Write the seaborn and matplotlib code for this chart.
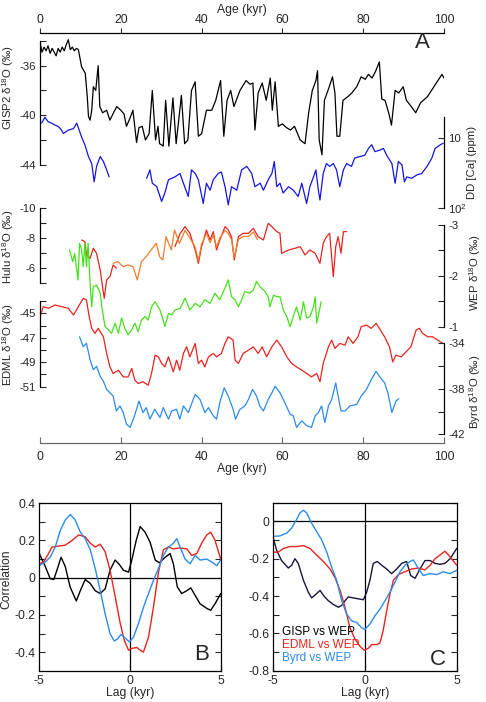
import matplotlib
matplotlib.use("Agg")
import matplotlib.pyplot as plt
import seaborn as sns
from matplotlib.ticker import NullLocator

# ---------------- panel A: ice cores and speleothems (age in kyr) ----------------
gisp_age = [0.0, 0.5, 1.0, 1.5, 2.0, 2.5, 3.0, 3.5, 4.0, 4.5, 5.0, 5.5, 6.0, 6.5, 7.0, 7.5,
            8.0, 8.5, 9.0, 9.5, 10.3, 11.2, 11.7, 12.0, 12.4, 12.8, 13.2, 13.8, 14.4, 14.8,
            15.5, 16.5, 17.3, 18.2, 19.0, 20.0, 20.8, 21.4, 22.2, 23.0, 23.9, 24.5, 25.3,
            26.1, 27.0, 27.8, 28.6, 29.2, 29.6, 30.5, 31.1, 31.9, 32.9, 33.7, 35.0, 35.8,
            36.6, 37.5, 38.4, 39.2, 40.0, 41.2, 42.5, 43.5, 44.7, 45.5, 46.3, 47.2, 48.0,
            49.5, 51.0, 52.0, 52.7, 53.2, 54.0, 55.0, 56.0, 57.0, 57.5, 58.2, 59.0, 60.0,
            61.0, 62.0, 63.0, 64.4, 65.6, 66.5, 67.4, 68.3, 68.7, 69.1, 69.8, 70.4, 71.6,
            72.4, 73.0, 73.5, 74.2, 75.0, 76.2, 77.2, 78.4, 79.5, 80.5, 81.3, 82.2, 83.0,
            84.0, 84.6, 85.4, 86.3, 87.0, 87.9, 88.8, 89.9, 90.7, 91.9, 93.0, 94.2, 95.9,
            97.5, 99.5, 100.0]
gisp_d18o = [-34.1, -34.9, -34.5, -34.8, -34.4, -35.0, -34.6, -34.9, -35.2, -34.6, -34.9,
             -34.5, -34.8, -34.3, -33.9, -34.7, -34.5, -34.8, -34.6, -34.7, -36.1, -36.6,
             -38.5, -40.1, -40.4, -39.6, -37.7, -38.0, -36.0, -39.3, -39.8, -39.6, -40.4,
             -39.8, -39.3, -39.6, -39.9, -40.9, -40.3, -39.6, -42.2, -41.0, -40.9, -42.0,
             -41.5, -38.0, -42.0, -40.9, -42.3, -42.5, -38.8, -42.5, -38.6, -42.3, -38.4,
             -42.3, -42.0, -38.0, -37.3, -41.7, -41.5, -39.6, -39.6, -38.8, -37.2, -41.7,
             -38.8, -38.0, -39.3, -38.0, -37.2, -37.5, -37.4, -41.2, -38.2, -37.4, -38.8,
             -37.0, -39.6, -37.3, -40.9, -40.7, -41.0, -41.2, -40.9, -42.0, -42.3, -39.8,
             -38.0, -37.2, -36.4, -42.0, -43.2, -38.8, -37.7, -36.9, -38.2, -41.7, -41.7,
             -38.8, -38.5, -38.2, -37.7, -36.9, -37.1, -36.7, -37.0, -36.5, -35.7, -38.7,
             -38.8, -39.8, -40.8, -38.0, -38.2, -37.7, -38.8, -39.3, -39.8, -39.0, -38.5,
             -37.7, -36.7, -37.0]

# DD dust calcium, two segments (gap 17-26 kyr)
dd_age_a = [0.4, 1.2, 2.0, 2.9, 3.7, 4.5, 5.2, 5.8, 7.0, 8.3, 9.1, 10.3, 11.1, 12.0, 12.8,
            13.4, 14.0, 14.9, 15.7, 16.5, 17.1]
dd_ca_a = [6.2, 5.1, 5.9, 6.2, 6.6, 6.9, 7.6, 8.7, 7.8, 7.4, 6.2, 9.8, 12.6, 18.6, 23.4,
           42.7, 25.7, 18.6, 21.9, 28.8, 36.3]
dd_age_b = [26.4, 27.2, 27.8, 28.9, 30.1, 30.9, 31.8, 33.4, 34.65, 35.5, 36.7, 37.5, 38.4,
            39.2, 40.4, 41.2, 42.1, 42.9, 44.1, 44.9, 45.8, 46.6, 47.4, 48.7, 49.9, 51.2,
            52.4, 53.2, 54.5, 55.3, 56.5, 57.4, 58.0, 58.6, 59.4, 60.2, 61.5, 62.7, 63.9,
            64.8, 66.0, 66.8, 67.7, 68.3, 68.9, 69.3, 70.1, 70.9, 71.7, 72.6, 73.4, 74.2,
            75.1, 75.9, 77.1, 77.9, 79.2, 80.4, 81.3, 82.1, 82.9, 84.2, 85.0, 85.8, 87.1,
            87.9, 88.7, 89.6, 90.2, 90.8, 92.0, 93.3, 94.5, 95.8, 97.0, 97.8, 99.1, 99.8]
dd_ca_b = [38.0, 28.8, 44.7, 50.1, 81.3, 61.7, 39.8, 36.3, 32.4, 44.7, 69.2, 28.8, 32.4,
           39.8, 87.0, 44.7, 56.2, 39.8, 32.4, 30.9, 50.1, 91.0, 50.1, 56.2, 28.8, 25.7,
           32.4, 50.1, 44.7, 56.2, 39.8, 32.4, 21.9, 50.1, 44.7, 61.7, 50.1, 56.2, 69.2,
           44.7, 87.0, 50.1, 36.3, 28.8, 56.2, 77.6, 32.4, 23.4, 25.7, 23.4, 28.8, 50.1,
           28.8, 23.4, 25.7, 19.5, 18.6, 17.8, 14.2, 12.6, 15.8, 15.0, 14.2, 17.8, 23.4,
           44.7, 21.9, 24.5, 42.7, 36.3, 38.0, 34.0, 32.4, 25.7, 19.5, 14.2, 12.6, 12.0]

# Hulu cave: red record (two segments) and orange record
hulu_red_age_a = [10.3, 11.1, 11.5, 12.4, 13.2, 14.0, 14.9, 15.3, 15.9, 16.5, 17.3, 18.1, 18.9]
hulu_red_a = [-7.87, -7.76, -6.88, -6.66, -7.32, -6.99, -5.89, -5.12, -4.02, -5.23, -5.45,
              -6.22, -6.0]
hulu_red_age_b = [33.4, 34.7, 35.9, 37.1, 38.4, 39.2, 40.0, 41.2, 42.1, 42.9, 43.7, 44.5,
                  45.8, 46.6, 47.4, 48.1, 49.1, 50.3, 51.6, 52.8, 54.0, 55.3, 56.5, 57.4,
                  58.6, 59.4, 59.8, 61.5, 63.1, 64.4, 65.6, 66.8, 68.1, 69.3, 70.1, 70.9,
                  71.7, 72.6, 73.2, 73.8, 74.5, 75.1, 75.9]
hulu_red_b = [-7.43, -8.31, -8.75, -8.31, -7.21, -6.33, -7.43, -8.53, -7.87, -8.42, -7.21,
              -7.87, -8.75, -8.53, -8.09, -6.55, -8.09, -8.31, -8.31, -8.64, -8.09, -7.87,
              -8.97, -8.75, -8.42, -8.31, -6.99, -7.21, -7.32, -7.43, -6.88, -7.21, -6.99,
              -6.33, -7.65, -8.09, -8.31, -5.45, -7.43, -8.09, -6.99, -8.42, -8.42]
hulu_orange_age = [18.1, 19.3, 20.6, 21.8, 23.0, 24.1, 25.1, 26.3, 27.5, 28.8, 29.6, 30.4,
                   31.2, 32.5, 33.3, 34.5, 35.9, 37.1, 38.4, 39.2, 40.0, 41.2, 42.1, 42.9,
                   43.7, 44.5, 45.8, 46.6, 47.4, 48.1, 49.1, 50.3, 51.6, 52.8, 53.8]
hulu_orange = [-6.33, -6.44, -6.11, -6.22, -6.11, -5.23, -6.44, -6.77, -7.21, -7.65, -6.77,
               -6.55, -8.09, -7.21, -8.53, -7.65, -8.5, -8.0, -7.4, -6.5, -7.6, -8.3, -7.7,
               -8.2, -7.4, -8.0, -8.5, -8.3, -7.9, -6.7, -7.9, -8.1, -8.1, -8.4, -7.9]

# WEP speleothem composite
wep_age = [7.3, 8.1, 8.6, 9.4, 9.8, 10.3, 10.7, 11.1, 11.5, 11.9, 12.4, 12.8, 13.2, 14.0,
           14.9, 15.3, 16.1, 16.9, 17.7, 18.6, 19.4, 20.2, 21.0, 21.8, 22.7, 23.5, 24.3,
           25.1, 26.0, 26.8, 27.6, 28.5, 29.7, 30.5, 30.9, 31.8, 32.6, 33.4, 34.7, 35.9,
           37.1, 38.4, 39.6, 40.8, 42.1, 43.3, 44.5, 45.8, 46.6, 47.4, 48.3, 49.1, 49.9,
           50.7, 51.9, 52.8, 53.6, 54.4, 55.7, 56.5, 56.9, 57.8, 58.6, 59.4, 60.2, 61.1,
           61.9, 62.7, 63.5, 64.4, 65.2, 66.0, 66.8, 67.7, 68.1, 68.5, 69.6]
wep_d18o = [-2.51, -2.28, -2.44, -1.92, -2.64, -2.51, -2.18, -2.64, -2.18, -2.64, -1.85,
            -1.39, -1.79, -1.82, -1.66, -1.39, -1.0, -0.94, -0.87, -1.07, -0.87, -1.17,
            -0.97, -0.84, -0.94, -1.07, -0.9, -1.13, -1.2, -1.13, -1.39, -1.49, -1.33,
            -1.13, -1.0, -1.26, -1.23, -1.33, -1.36, -1.56, -1.33, -1.46, -1.39, -1.53,
            -1.46, -1.66, -1.53, -1.76, -1.92, -1.59, -1.53, -1.39, -1.53, -1.69, -1.66,
            -1.72, -1.89, -1.79, -1.69, -1.59, -1.39, -1.62, -1.59, -1.59, -1.33, -1.2,
            -1.0, -1.2, -1.39, -1.13, -1.49, -1.17, -1.2, -1.39, -1.59, -1.07, -1.49]

edml_age = [0.0, 0.8, 2.1, 3.7, 5.4, 7.0, 8.3, 9.5, 10.7, 11.5, 12.1, 12.8, 13.6, 14.4, 15.7,
            16.5, 17.3, 18.1, 19.4, 20.6, 21.8, 22.7, 23.5, 24.3, 25.5, 26.8, 27.6, 28.5,
            29.3, 30.1, 30.9, 31.8, 33.0, 33.8, 34.6, 35.5, 36.3, 37.1, 38.4, 39.2, 40.0,
            40.8, 41.7, 42.9, 43.7, 44.9, 45.8, 46.6, 47.8, 48.3, 49.1, 50.3, 51.6, 52.8,
            54.0, 55.0, 56.1, 57.4, 58.6, 59.8, 61.1, 62.3, 63.5, 64.8, 66.0, 67.2, 68.5,
            69.3, 70.1, 71.4, 72.2, 73.0, 74.2, 75.5, 76.3, 77.5, 78.7, 79.5, 80.8, 82.0,
            83.2, 84.0, 85.3, 86.5, 87.3, 88.1, 89.4, 90.6, 91.8, 93.1, 93.9, 94.7, 96.0,
            97.2, 98.4, 99.7]
edml_d18o = [-45.28, -44.46, -44.59, -44.32, -44.46, -44.59, -45.14, -44.46, -43.77, -43.91,
             -45.14, -46.23, -46.64, -46.23, -46.92, -48.28, -49.38, -49.92, -49.65, -50.2,
             -50.2, -49.51, -50.47, -50.74, -50.6, -50.88, -49.92, -48.42, -48.56, -49.1,
             -49.38, -48.56, -49.79, -48.83, -49.65, -48.28, -47.74, -48.56, -47.46, -49.1,
             -48.83, -49.38, -48.56, -48.28, -48.56, -48.28, -47.46, -46.92, -47.19, -48.83,
             -49.1, -48.28, -48.01, -47.74, -48.28, -47.74, -48.56, -47.74, -47.19, -47.74,
             -48.56, -49.1, -49.38, -49.65, -49.92, -50.2, -49.92, -50.6, -49.1, -47.74,
             -47.19, -47.87, -47.46, -47.6, -46.92, -47.46, -46.92, -46.1, -45.96, -46.23,
             -45.82, -46.23, -46.92, -47.74, -48.97, -48.42, -48.56, -48.15, -47.74, -46.37,
             -46.23, -46.64, -46.92, -46.92, -47.19, -47.46]

byrd_age = [9.8, 10.7, 11.5, 12.4, 13.2, 14.0, 14.9, 15.7, 16.5, 17.3, 18.1, 18.9, 19.8,
            20.6, 21.4, 22.3, 23.1, 23.9, 24.5, 25.5, 26.3, 27.2, 28.4, 29.7, 30.5, 31.8,
            32.6, 33.8, 34.6, 35.5, 36.7, 38.4, 39.6, 40.8, 41.7, 42.9, 43.7, 44.5, 45.6,
            46.6, 47.8, 48.4, 49.5, 50.7, 51.6, 52.6, 53.6, 54.4, 55.3, 56.5, 57.4, 58.2,
            59.4, 60.6, 61.9, 62.7, 63.5, 64.8, 66.0, 67.2, 68.1, 68.9, 69.7, 70.5, 71.4,
            72.2, 73.2, 73.8, 74.5, 75.5, 76.7, 78.4, 79.5, 80.8, 82.0, 83.2, 84.0, 85.3,
            86.1, 87.1, 88.1, 88.8]
byrd_d18o = [-33.43, -34.3, -34.0, -35.45, -36.32, -36.03, -36.9, -37.34, -38.06, -38.35,
             -38.64, -39.95, -39.51, -40.09, -41.1, -41.39, -40.67, -39.8, -39.08, -40.09,
             -39.65, -40.67, -39.8, -40.52, -39.65, -40.67, -39.95, -39.8, -40.67, -39.51,
             -40.09, -38.5, -38.93, -40.09, -39.65, -40.38, -40.67, -39.22, -37.91, -38.64,
             -39.8, -40.67, -39.8, -39.51, -38.93, -38.06, -38.64, -39.51, -39.95, -38.93,
             -38.35, -37.77, -38.35, -39.22, -40.23, -40.38, -41.39, -40.81, -41.25, -41.39,
             -40.38, -40.09, -39.51, -40.96, -39.51, -38.93, -37.48, -38.64, -39.95, -39.95,
             -39.51, -39.37, -38.64, -38.06, -37.19, -36.47, -36.9, -37.48, -38.35, -40.09,
             -39.08, -38.87]

age_ticks = [0, 20, 40, 60, 80, 100]

# ---------------- panels B and C: lagged correlations ----------------
b_gisp_lag = [-5.0, -4.67, -4.4, -4.2, -4.03, -3.8, -3.57, -3.3, -2.96, -2.74, -2.47, -2.2,
              -1.92, -1.64, -1.37, -1.1, -0.82, -0.58, -0.36, -0.08, 0.1, 0.34, 0.56, 0.83,
              1.11, 1.39, 1.62, 1.94, 2.21, 2.39, 2.61, 2.85, 3.13, 3.35, 3.59, 3.86, 4.23,
              4.45, 4.69, 5.0]
b_gisp_r = [0.13, 0.06, -0.005, -0.01, 0.04, 0.11, 0.06, -0.05, -0.125, -0.07, -0.01, -0.03,
            -0.07, -0.085, -0.06, 0.04, 0.095, 0.07, 0.04, 0.03, 0.095, 0.2, 0.275, 0.245,
            0.19, 0.095, 0.08, 0.11, 0.13, 0.075, -0.05, -0.085, -0.07, -0.055, -0.095,
            -0.14, -0.165, -0.175, -0.14, -0.085]
b_edml_lag = [-5.0, -4.76, -4.49, -4.3, -3.94, -3.57, -3.2, -2.83, -2.47, -2.19, -1.92, -1.64,
              -1.37, -1.1, -0.82, -0.54, -0.32, -0.08, 0.1, 0.38, 0.56, 0.74, 1.02, 1.29,
              1.57, 1.84, 2.12, 2.39, 2.76, 3.13, 3.4, 3.68, 3.95, 4.23, 4.45, 4.69, 5.0]
b_edml_r = [0.075, 0.085, 0.13, 0.165, 0.17, 0.175, 0.2, 0.23, 0.22, 0.185, 0.165, 0.18, 0.14,
            0.04, -0.1, -0.245, -0.335, -0.39, -0.38, -0.375, -0.39, -0.4, -0.32, -0.16, 0.03,
            0.15, 0.165, 0.155, 0.16, 0.155, 0.12, 0.13, 0.185, 0.23, 0.245, 0.2, 0.1]
b_byrd_lag = [-5.0, -4.67, -4.4, -4.12, -3.84, -3.57, -3.29, -3.02, -2.74, -2.47, -2.19,
              -1.92, -1.64, -1.37, -1.1, -0.87, -0.69, -0.5, -0.32, -0.03, 0.19, 0.47, 0.74,
              1.02, 1.29, 1.57, 1.84, 2.12, 2.39, 2.58, 2.76, 3.04, 3.31, 3.59, 3.86, 4.23,
              4.5, 4.78, 5.0]
b_byrd_r = [0.065, 0.085, 0.11, 0.165, 0.255, 0.31, 0.34, 0.31, 0.245, 0.21, 0.15, 0.05,
            -0.07, -0.195, -0.3, -0.34, -0.33, -0.305, -0.32, -0.345, -0.32, -0.245, -0.16,
            -0.085, -0.015, 0.05, 0.12, 0.165, 0.185, 0.21, 0.165, 0.1, 0.075, 0.12, 0.095,
            0.1, 0.085, 0.065, 0.095]

c_gisp_lag = [-5.0, -4.82, -4.55, -4.18, -4.0, -3.82, -3.64, -3.36, -3.09, -2.91, -2.67,
              -2.45, -2.24, -2.0, -1.73, -1.45, -1.27, -1.09, -0.91, -0.64, -0.36, -0.09,
              0.09, 0.27, 0.45, 0.67, 0.91, 1.18, 1.45, 1.73, 2.0, 2.27, 2.49, 2.73, 3.0,
              3.27, 3.55, 3.82, 4.09, 4.36, 4.64, 5.0]
c_gisp_r = [-0.09, -0.155, -0.21, -0.25, -0.235, -0.2, -0.225, -0.315, -0.38, -0.41, -0.39,
            -0.37, -0.4, -0.425, -0.445, -0.46, -0.45, -0.425, -0.405, -0.41, -0.415, -0.42,
            -0.38, -0.315, -0.225, -0.215, -0.235, -0.255, -0.28, -0.255, -0.225, -0.215,
            -0.29, -0.305, -0.255, -0.21, -0.21, -0.225, -0.23, -0.225, -0.2, -0.145]
c_edml_lag = [-5.0, -4.73, -4.45, -4.09, -3.73, -3.36, -3.0, -2.64, -2.27, -1.91, -1.64,
              -1.36, -1.09, -0.82, -0.55, -0.27, -0.05, 0.18, 0.36, 0.64, 0.82, 1.0, 1.18,
              1.36, 1.55, 1.82, 2.18, 2.55, 2.91, 3.27, 3.55, 3.82, 4.09, 4.36, 4.64, 5.0]
c_edml_r = [-0.165, -0.165, -0.145, -0.135, -0.135, -0.13, -0.145, -0.18, -0.215, -0.255,
            -0.3, -0.37, -0.46, -0.57, -0.63, -0.67, -0.69, -0.68, -0.66, -0.66, -0.65, -0.58,
            -0.48, -0.39, -0.315, -0.285, -0.27, -0.255, -0.25, -0.26, -0.235, -0.2, -0.18,
            -0.16, -0.19, -0.235]
c_byrd_lag = [-5.0, -4.64, -4.27, -4.0, -3.73, -3.55, -3.36, -3.18, -2.91, -2.64, -2.36,
              -2.09, -1.82, -1.55, -1.27, -1.0, -0.73, -0.45, -0.18, 0.0, 0.27, 0.55, 0.82,
              1.09, 1.36, 1.64, 1.91, 2.18, 2.45, 2.64, 2.91, 3.18, 3.55, 3.91, 4.27, 4.64, 5.0]
c_byrd_r = [-0.08, -0.078, -0.063, -0.036, 0.01, 0.045, 0.06, 0.045, -0.01, -0.054, -0.1,
            -0.163, -0.245, -0.315, -0.425, -0.497, -0.533, -0.542, -0.57, -0.578, -0.55,
            -0.505, -0.47, -0.425, -0.38, -0.325, -0.27, -0.235, -0.215, -0.207, -0.253,
            -0.29, -0.28, -0.285, -0.27, -0.28, -0.262]

lag_ticks = [-5, 0, 5]
legend_names = ["GISP vs WEP", "EDML vs WEP", "Byrd vs WEP"]

BLACK, NAVY = "#000000", "#15153a"
RED, ORANGE, GREEN = "#e8231d", "#f07c2c", "#45e01c"
DDBLUE, BYRDBLUE = "#1515e0", "#2b8be8"

sns.set_style("ticks")
plt.rcParams["font.family"] = ["Liberation Sans", "DejaVu Sans"]
plt.rcParams["mathtext.fontset"] = "custom"
plt.rcParams["mathtext.rm"] = "Liberation Sans"
plt.rcParams["mathtext.it"] = "Liberation Sans:italic"
plt.rcParams["font.size"] = 8.7
plt.rcParams["axes.linewidth"] = 0.9
plt.rcParams["axes.edgecolor"] = "black"

W, H = 486, 702
fig = plt.figure(figsize=(W / 100, H / 100), dpi=100)


def add_ax(l, t, r, b, name):
    return fig.add_axes([l / W, 1 - b / H, (r - l) / W, (b - t) / H], label=name)


PA = (40, 33, 444, 443)  # panel A box in pixels


def pinned_limits(v1, p1, v2, p2):
    # y-limits of the full panel-A box for a scale pinned at two pixel rows
    k = (v2 - v1) / (p2 - p1)
    return v1 + (PA[3] - p1) * k, v1 + (PA[1] - p1) * k


def series_axis(name, side, lims, bounds, ticks, labels, ylabel, label_y, log=False):
    ax = add_ax(*PA, name)
    ax.patch.set_visible(False)
    if log:
        ax.set_yscale("log")
    ax.set_xlim(0, 100)
    ax.set_ylim(*lims)
    ax.xaxis.set_visible(False)
    for s in ["top", "bottom", "left", "right"]:
        ax.spines[s].set_visible(s == side)
    ax.spines[side].set_bounds(*bounds)
    if side == "right":
        ax.yaxis.tick_right()
        ax.yaxis.set_label_position("right")
    ax.set_yticks(ticks)
    ax.set_yticklabels(labels)
    ax.yaxis.set_minor_locator(NullLocator())
    ax.tick_params(axis="y", direction="in", length=4, width=0.8, pad=3, labelsize=8.2)
    ax.set_ylabel(ylabel, fontsize=8.2)
    ax.yaxis.set_label_coords(-0.06 if side == "left" else 1.058, label_y)
    return ax


def line(ax, x, y, color, lw=0.9):
    sns.lineplot(x=x, y=y, ax=ax, color=color, lw=lw, sort=False, estimator=None)


# base axis carrying the age scale
base = add_ax(*PA, "age")
base.set_xlim(0, 100)
base.set_yticks([])
for s in ["left", "right", "top"]:
    base.spines[s].set_visible(False)
base.spines["bottom"].set_color("#6a6a6a")
base.set_xticks(age_ticks)
base.tick_params(axis="x", direction="in", length=4, color="#6a6a6a", pad=6)
base.set_xlabel("Age (kyr)", labelpad=0)
top = base.secondary_xaxis("top")
top.set_xticks(age_ticks)
top.tick_params(direction="out", length=3.5, pad=1.5)
top.set_xlabel("Age (kyr)", labelpad=0.5)
base.text(0.946, 0.976, "A", transform=base.transAxes, ha="center", va="center", fontsize=16)

ax_g = series_axis("gisp", "left", pinned_limits(-36, 65.7, -44, 164.7), (-44, -34),
                   [-44, -42, -40, -38, -36, -34], ["-44", "", "-40", "", "-36", ""],
                   "GISP2 δ$^{18}$O (‰)", 0.867)
line(ax_g, gisp_age, gisp_d18o, BLACK)

lo, hi = pinned_limits(1, 137.7, 2, 207.7)
ax_d = series_axis("dd", "right", (10 ** lo, 10 ** hi), (5, 100), [10, 100], ["10", "$10^2$"],
                   "DD [Ca] (ppm)", 0.685, log=True)
line(ax_d, dd_age_a, dd_ca_a, DDBLUE)
line(ax_d, dd_age_b, dd_ca_b, DDBLUE)

ax_h = series_axis("hulu", "left", pinned_limits(-10, 207.7, -6, 268.3), (-10, -5),
                   [-10, -9, -8, -7, -6, -5], ["-10", "", "-8", "", "-6", ""],
                   "Hulu δ$^{18}$O (‰)", 0.478)
line(ax_h, hulu_red_age_a, hulu_red_a, RED)
line(ax_h, hulu_red_age_b, hulu_red_b, RED)
line(ax_h, hulu_orange_age, hulu_orange, ORANGE)

ax_w = series_axis("wep", "right", pinned_limits(-3, 225, -1, 326.7), (-3, -1),
                   [-3, -2.5, -2, -1.5, -1], ["-3", "", "-2", "", "-1"],
                   "WEP δ$^{18}$O (‰)", 0.417)
line(ax_w, wep_age, wep_d18o, GREEN)

ax_e = series_axis("edml", "left", pinned_limits(-45, 313.3, -51, 386.7), (-51, -44),
                   [-51, -50, -49, -48, -47, -46, -45, -44],
                   ["-51", "", "-49", "", "-47", "", "-45", ""],
                   "EDML δ$^{18}$O (‰)", 0.241)
line(ax_e, edml_age, edml_d18o, RED)

ax_b = series_axis("byrd", "right", pinned_limits(-34, 343.3, -42, 434.3), (-42, -34),
                   [-42, -40, -38, -36, -34], ["-42", "", "-38", "", "-34"],
                   "Byrd δ$^{18}$O (‰)", 0.124)
line(ax_b, byrd_age, byrd_d18o, BYRDBLUE)


# ---------------- panels B and C ----------------
def corr_axes(rect, name, ylim, yticks, ylabels):
    ax = add_ax(*rect, name)
    ax.set_xlim(-5, 5)
    ax.set_ylim(*ylim)
    ax.set_xticks(lag_ticks)
    ax.set_xticklabels([str(t) for t in lag_ticks])
    ax.set_yticks(yticks)
    ax.set_yticklabels(ylabels)
    ax.tick_params(direction="in", length=4, width=0.8, left=True, right=True, pad=3)
    ax.axhline(0, color="black", lw=0.9)
    ax.axvline(0, color="black", lw=0.9)
    ax.set_xlabel("Lag (kyr)", labelpad=0)
    return ax


axB = corr_axes((39.3, 503.3, 220.7, 670.7), "B", (-0.5, 0.4),
                [-0.4, -0.3, -0.2, -0.1, 0, 0.1, 0.2, 0.3, 0.4],
                ["-0.4", "", "-0.2", "", "0", "", "0.2", "", "0.4"])
line(axB, b_gisp_lag, b_gisp_r, BLACK, 1.0)
line(axB, b_edml_lag, b_edml_r, RED, 1.0)
line(axB, b_byrd_lag, b_byrd_r, BYRDBLUE, 1.0)
axB.set_ylabel("Correlation")
axB.yaxis.set_label_coords(-0.15, 0.548)
axB.text(0.897, 0.094, "B", transform=axB.transAxes, ha="center", va="center", fontsize=16)

axC = corr_axes((273.3, 502.7, 456.7, 670.7), "C", (-0.8, 0.1),
                [-0.8, -0.7, -0.6, -0.5, -0.4, -0.3, -0.2, -0.1, 0, 0.1],
                ["-0.8", "", "-0.6", "", "-0.4", "", "-0.2", "", "0", ""])
line(axC, c_gisp_lag, c_gisp_r, NAVY, 1.0)
line(axC, c_edml_lag, c_edml_r, RED, 1.0)
line(axC, c_byrd_lag, c_byrd_r, BYRDBLUE, 1.0)
for name, col, yy in zip(legend_names, [BLACK, RED, BYRDBLUE], [0.232, 0.153, 0.074]):
    axC.text(0.046, yy, name, color=col, transform=axC.transAxes, ha="left", va="center",
             fontsize=8.5)
axC.text(0.898, 0.064, "C", transform=axC.transAxes, ha="center", va="center", fontsize=16)

fig.savefig("out.png", dpi=100)
